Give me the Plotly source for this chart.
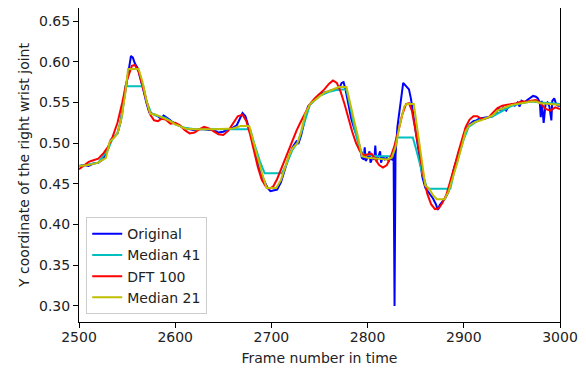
import plotly.graph_objects as go

orig_x = [2500,2505,2510,2515,2520,2525,2530,2533,2536,2540,2543,2546,2549,2552,2554,2556,2558,2561,2564,2567,2570,2573,2576,2579,2582,2585,2588,2591,2594,2597,2600,2604,2608,2612,2616,2620,2625,2630,2635,2640,2645,2650,2655,2660,2664,2667,2670,2673,2676,2680,2684,2688,2692,2696,2699,2702,2706,2710,2714,2718,2722,2726,2728,2731,2735,2738,2742,2746,2750,2754,2758,2762,2766,2770,2773,2775,2777,2780,2783,2786,2789,2792,2794,2796,2797,2798,2800,2802,2803,2805,2807,2808,2809,2811,2813,2814,2816,2818,2820,2822,2824,2826,2827,2828,2829,2831,2834,2837,2840,2843,2845,2848,2851,2854,2857,2860,2864,2868,2871,2873,2875,2878,2881,2884,2887,2890,2894,2898,2902,2906,2910,2913,2916,2920,2925,2930,2934,2936,2938,2941,2944,2947,2950,2953,2956,2958,2960,2963,2966,2969,2972,2975,2977,2979,2980,2981,2983,2985,2987,2989,2991,2992,2994,2996,2998,3000]
orig_y = [0.472,0.473,0.472,0.475,0.476,0.480,0.492,0.504,0.507,0.512,0.525,0.545,0.570,0.592,0.607,0.605,0.598,0.592,0.580,0.565,0.550,0.538,0.536,0.535,0.533,0.530,0.534,0.532,0.529,0.526,0.524,0.521,0.519,0.518,0.517,0.516,0.517,0.517,0.516,0.516,0.513,0.514,0.517,0.519,0.522,0.530,0.537,0.533,0.522,0.505,0.485,0.468,0.455,0.445,0.441,0.442,0.443,0.452,0.468,0.483,0.495,0.502,0.499,0.510,0.530,0.545,0.550,0.555,0.560,0.562,0.563,0.565,0.566,0.566,0.574,0.575,0.566,0.548,0.530,0.518,0.508,0.495,0.482,0.480,0.495,0.478,0.482,0.490,0.476,0.482,0.480,0.497,0.478,0.483,0.490,0.476,0.484,0.480,0.482,0.478,0.482,0.479,0.490,0.300,0.485,0.520,0.545,0.574,0.570,0.566,0.555,0.530,0.505,0.480,0.458,0.445,0.438,0.432,0.425,0.418,0.424,0.428,0.433,0.440,0.455,0.470,0.485,0.500,0.516,0.523,0.527,0.528,0.530,0.531,0.532,0.533,0.537,0.543,0.540,0.544,0.540,0.546,0.548,0.546,0.550,0.545,0.552,0.550,0.553,0.556,0.558,0.557,0.555,0.550,0.532,0.552,0.525,0.548,0.550,0.545,0.528,0.552,0.555,0.548,0.546,0.546]

med41_x = [2500,2520,2530,2535,2540,2545,2548,2567,2570,2575,2580,2590,2600,2610,2620,2640,2660,2678,2682,2688,2693,2711,2716,2722,2728,2735,2740,2750,2760,2770,2778,2782,2787,2792,2796,2810,2826,2830,2847,2851,2857,2862,2886,2890,2895,2900,2905,2915,2930,2940,2950,2960,2970,2980,2990,3000]
med41_y = [0.472,0.476,0.492,0.506,0.512,0.535,0.570,0.570,0.552,0.537,0.534,0.531,0.523,0.519,0.517,0.517,0.517,0.517,0.500,0.478,0.463,0.463,0.475,0.492,0.502,0.528,0.547,0.558,0.563,0.566,0.566,0.545,0.515,0.492,0.486,0.484,0.484,0.507,0.507,0.490,0.462,0.444,0.444,0.465,0.485,0.505,0.520,0.528,0.533,0.540,0.546,0.549,0.551,0.550,0.549,0.548]

dft_x = [2500,2505,2510,2515,2520,2525,2530,2535,2540,2545,2550,2555,2558,2562,2566,2570,2574,2578,2582,2586,2590,2595,2600,2605,2610,2615,2620,2625,2630,2635,2640,2645,2650,2655,2660,2665,2670,2674,2678,2682,2686,2690,2694,2698,2702,2706,2710,2714,2718,2722,2726,2730,2735,2740,2745,2750,2755,2760,2764,2768,2772,2776,2780,2784,2788,2792,2796,2800,2804,2808,2812,2816,2820,2824,2828,2832,2836,2840,2843,2846,2850,2854,2858,2862,2866,2870,2874,2878,2882,2886,2890,2894,2898,2902,2906,2910,2914,2918,2922,2926,2930,2935,2940,2945,2950,2955,2960,2965,2970,2975,2980,2985,2990,2995,3000]
dft_y = [0.468,0.473,0.477,0.479,0.481,0.487,0.495,0.508,0.525,0.550,0.578,0.595,0.596,0.588,0.570,0.550,0.535,0.528,0.527,0.530,0.529,0.524,0.525,0.522,0.516,0.512,0.513,0.517,0.520,0.518,0.514,0.511,0.510,0.515,0.524,0.533,0.535,0.527,0.510,0.490,0.470,0.455,0.447,0.444,0.447,0.456,0.468,0.480,0.492,0.504,0.515,0.525,0.537,0.548,0.555,0.560,0.566,0.573,0.577,0.574,0.563,0.548,0.530,0.514,0.500,0.490,0.485,0.486,0.487,0.480,0.473,0.470,0.473,0.483,0.497,0.515,0.535,0.548,0.549,0.540,0.515,0.488,0.460,0.438,0.425,0.419,0.420,0.427,0.437,0.452,0.470,0.488,0.505,0.520,0.529,0.533,0.533,0.530,0.530,0.532,0.537,0.543,0.546,0.547,0.548,0.549,0.551,0.551,0.552,0.553,0.549,0.542,0.540,0.544,0.542]

med21_x = [2500,2510,2520,2528,2532,2536,2540,2544,2548,2551,2562,2566,2570,2574,2580,2590,2595,2600,2605,2610,2620,2640,2660,2668,2677,2681,2686,2690,2695,2705,2710,2714,2718,2722,2727,2731,2735,2740,2745,2750,2755,2760,2765,2770,2778,2782,2786,2790,2794,2800,2810,2820,2825,2829,2833,2838,2841,2848,2852,2856,2860,2864,2868,2872,2880,2884,2888,2893,2898,2902,2906,2912,2918,2925,2930,2935,2940,2945,2950,2960,2970,2975,2980,2990,3000]
med21_y = [0.472,0.473,0.476,0.482,0.502,0.506,0.512,0.530,0.560,0.591,0.591,0.575,0.553,0.536,0.535,0.530,0.527,0.523,0.521,0.518,0.517,0.517,0.518,0.521,0.521,0.503,0.480,0.464,0.445,0.445,0.455,0.470,0.484,0.494,0.500,0.515,0.535,0.548,0.553,0.558,0.562,0.564,0.567,0.569,0.569,0.550,0.528,0.508,0.484,0.482,0.481,0.480,0.482,0.495,0.520,0.545,0.548,0.548,0.515,0.478,0.448,0.444,0.436,0.431,0.431,0.440,0.455,0.475,0.497,0.515,0.522,0.526,0.528,0.531,0.534,0.540,0.543,0.545,0.547,0.549,0.551,0.551,0.549,0.548,0.547]

x_ticks = [2500, 2600, 2700, 2800, 2900, 3000]
y_ticks = [0.30, 0.35, 0.40, 0.45, 0.50, 0.55, 0.60, 0.65]

series = [
    ("Original", orig_x, orig_y, "#0000ff"),
    ("Median 41", med41_x, med41_y, "#00bfbf"),
    ("DFT 100", dft_x, dft_y, "#ff0000"),
    ("Median 21", med21_x, med21_y, "#bfbf00"),
]

fig = go.Figure()
for name, xs, ys, col in series:
    fig.add_trace(go.Scatter(x=xs, y=ys, mode="lines", name=name,
                             line=dict(color=col, width=2)))

axis_common = dict(showline=True, linecolor="black", linewidth=1.1, mirror=True,
                   ticks="outside", ticklen=5, tickcolor="black", tickwidth=1.1,
                   showgrid=False, zeroline=False, automargin=False,
                   tickfont=dict(size=14, color="#222222"))

# page body has an 8px margin, so the figure is sized to the remaining area
fig.update_layout(
    width=578, height=360,
    margin=dict(l=71, r=26, t=0, b=46),
    plot_bgcolor="white", paper_bgcolor="white",
    font=dict(family="DejaVu Sans", size=14, color="#222222"),
    xaxis=dict(range=[2500, 3000], tickvals=x_ticks, ticklabelstandoff=-3,
               title=dict(text="Frame number in time", font=dict(size=14), standoff=9),
               **axis_common),
    yaxis=dict(range=[0.2803, 0.666], tickvals=y_ticks, tickformat=".2f",
               title=dict(text="Y coordinate of the right wrist joint", font=dict(size=14), standoff=6),
               **axis_common),
    legend=dict(x=0.015, y=0.025, xanchor="left", yanchor="bottom",
                bgcolor="rgba(255,255,255,0.8)", bordercolor="#cccccc", borderwidth=1,
                font=dict(size=14), itemwidth=30, tracegroupgap=0),
    showlegend=True,
)

fig.write_html("out.html")
